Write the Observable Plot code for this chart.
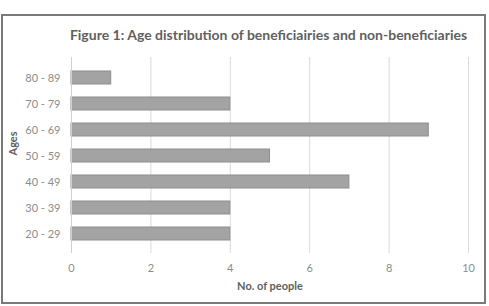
<!DOCTYPE html>
<html>
<head>
<meta charset="utf-8">
<script src="https://cdn.jsdelivr.net/npm/d3@7"></script>
<script src="https://cdn.jsdelivr.net/npm/@observablehq/plot@0.6"></script>
<style>
  html, body { margin: 0; padding: 0; background: #fff; }
  #wrap { position: relative; width: 489px; height: 306px; overflow: hidden; font-family: Lato, "Open Sans", sans-serif; }
  #box { position: absolute; left: 1px; top: 14px; width: 481px; height: 286px; border: 2px solid #7a7a7a; }
  #title { position: absolute; left: 0; width: 537px; top: 26px; text-align: center; font-size: 14px; font-weight: 700; color: #5f5f5f; white-space: nowrap; }
  #chart { position: absolute; left: 0; top: 0; }
</style>
</head>
<body>
<div id="wrap">
  <div id="box"></div>
  <div id="title">Figure 1: Age distribution of beneficiairies and non-beneficiaries</div>
  <div id="chart"></div>
</div>
<script>
const ageGroups = ["80 - 89", "70 - 79", "60 - 69", "50 - 59", "40 - 49", "30 - 39", "20 - 29"];
const counts = [1, 4, 9, 5, 7, 4, 4];
const xTicks = [0, 2, 4, 6, 8, 10];

const data = ageGroups.map((g, i) => ({group: g, count: counts[i]}));

const chart = Plot.plot({
  width: 489,
  height: 306,
  marginLeft: 71,
  marginRight: 21,
  marginTop: 57,
  marginBottom: 53,
  style: {fontFamily: "Lato, 'Open Sans', sans-serif", fontSize: "11px", color: "#8c8c8c", background: "transparent"},
  x: {domain: [0, 10], ticks: xTicks},
  y: {domain: ageGroups, padding: 0.5},
  marks: [
    Plot.gridX(xTicks, {stroke: "#d9d9d9", strokeOpacity: 1}),
    Plot.barX(data, {x: "count", y: "group", fill: "#a3a3a3", stroke: "#8e8e8e", strokeWidth: 1}),
    Plot.ruleX([0], {stroke: "#d0d0d0"}),
    Plot.axisY({tickSize: 0, tickPadding: 11, label: null, fill: "#8c8c8c"}),
    Plot.axisX({ticks: xTicks, tickSize: 0, tickPadding: 11, label: null, fill: "#8c8c8c"}),
    Plot.text(["No. of people"], {frameAnchor: "bottom", dy: 36, fontWeight: 700, fontSize: 11, fill: "#5f5f5f"}),
    Plot.text(["Ages"], {frameAnchor: "left", dx: -58, rotate: -90, fontWeight: 700, fontSize: 11, fill: "#5f5f5f"})
  ]
});
document.getElementById("chart").appendChild(chart);
</script>
</body>
</html>
